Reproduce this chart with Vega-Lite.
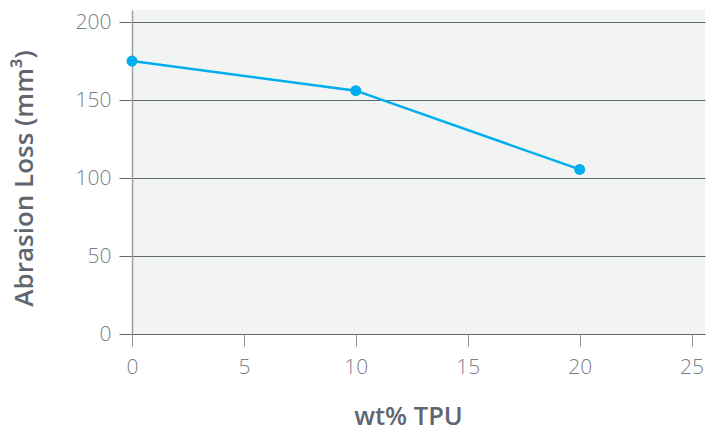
{
  "$schema": "https://vega.github.io/schema/vega-lite/v6.json",
  "width": 573,
  "height": 324,
  "autosize": {"type": "none"},
  "padding": {"left": 132, "top": 10, "right": 15, "bottom": 98},
  "background": "white",
  "config": {
    "view": {"fill": "#F2F3F3", "stroke": null},
    "font": "Open Sans"
  },
  "data": {"values": [
    {"tpu": 0, "loss": 175},
    {"tpu": 10, "loss": 156},
    {"tpu": 20, "loss": 105.5}
  ]},
  "layer": [
    {
      "mark": {"type": "line", "color": "#00AEEF", "strokeWidth": 2.5},
      "encoding": {
        "x": {"field": "tpu", "type": "quantitative"},
        "y": {"field": "loss", "type": "quantitative"}
      }
    },
    {
      "mark": {"type": "point", "filled": true, "opacity": 1, "color": "#00AEEF", "size": 120},
      "encoding": {
        "x": {"field": "tpu", "type": "quantitative"},
        "y": {"field": "loss", "type": "quantitative"}
      }
    }
  ],
  "encoding": {
    "x": {
      "field": "tpu", "type": "quantitative",
      "scale": {"domain": [0, 25.6], "nice": false, "zero": false},
      "axis": {
        "title": "wt% TPU", "values": [0, 5, 10, 15, 20, 25], "grid": false,
        "domain": false, "tickSize": 12, "tickColor": "#8a8f95", "tickWidth": 1,
        "labelFlush": false, "labelOverlap": false,
        "labelFontSize": 21, "labelColor": "#7a7f85", "labelPadding": 10, "labelFont": "Open Sans",
        "labelFontWeight": 300,
        "titleFontSize": 25.5, "titleColor": "#5f6670", "titleFontWeight": 600, "titlePadding": 27,
        "titleFont": "Open Sans", "titleX": 276
      }
    },
    "y": {
      "field": "loss", "type": "quantitative",
      "scale": {"domain": [0, 207.7], "nice": false},
      "axis": {
        "title": "Abrasion Loss (mm³)", "values": [0, 50, 100, 150, 200], "grid": true,
        "gridColor": "#5f6670", "gridWidth": 1, "gridOpacity": 1,
        "domain": true, "domainColor": "#9a9ea3", "domainWidth": 1.5,
        "tickSize": 13, "tickColor": "#5f6670",
        "labelFlush": false, "labelOverlap": false,
        "labelFontSize": 21, "labelColor": "#7a7f85", "labelPadding": 8, "labelFont": "Open Sans",
        "labelFontWeight": 300,
        "titleFontSize": 26, "titleColor": "#5f6670", "titleFontWeight": 600, "titlePadding": 38,
        "titleFont": "Open Sans", "titleY": 168
      }
    }
  }
}
